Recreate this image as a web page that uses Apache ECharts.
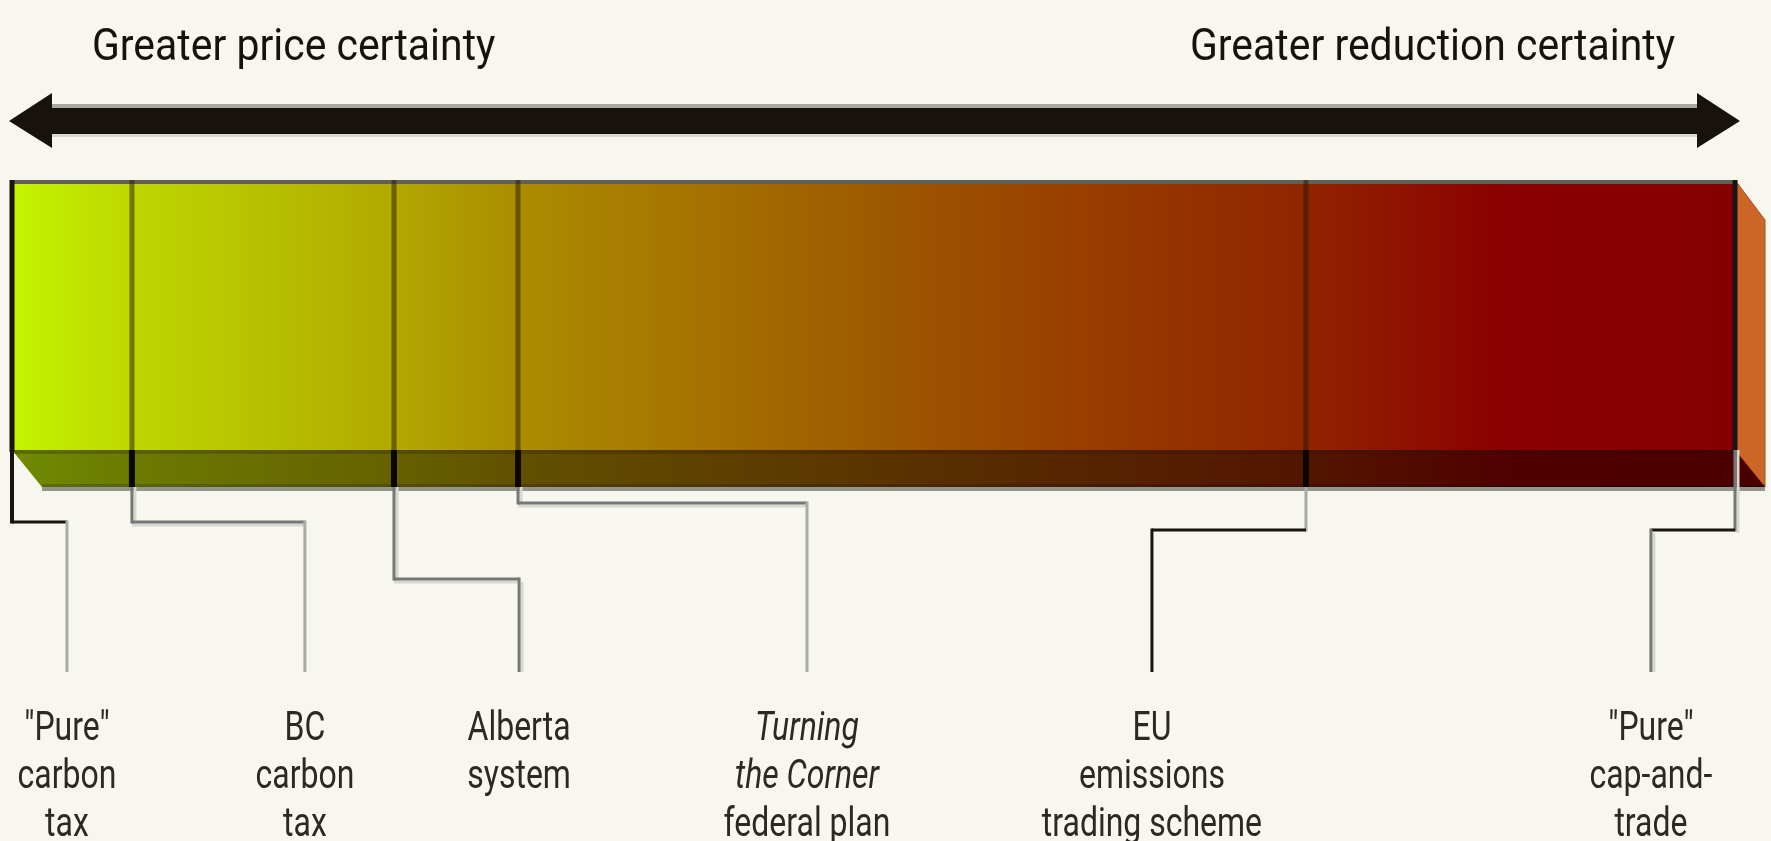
<!DOCTYPE html>
<html>
<head>
<meta charset="utf-8">
<script src="https://cdn.jsdelivr.net/npm/echarts@6/dist/echarts.min.js"></script>
<style>
  html, body { margin: 0; padding: 0; background: #f7f6ef; }
  #chart { width: 1771px; height: 841px; }
</style>
</head>
<body>
<div id="chart"></div>
<script>
// spectrum position: 0 = "pure" carbon tax, 100 = "pure" cap-and-trade
const headers = ['Greater price certainty', 'Greater reduction certainty'];
const policies = [
  '"Pure"\ncarbon\ntax',
  'BC\ncarbon\ntax',
  'Alberta\nsystem',
  '{i|Turning}\n{i|the Corner}\nfederal plan',
  'EU\nemissions\ntrading scheme',
  '"Pure"\ncap-and-\ntrade'
];
const dividerPos = [0, 6.96, 22.17, 29.37, 75.1, 100];
const labelPos = [3.19, 17.0, 29.43, 46.14, 66.16, 95.12];

// layout in px (y axis runs 0..841 top-down)
const Y = { arrow: 121, top: 180, front: 450, bottom: 487, drop: 672, label: 706 };
const elbowY = [522, 522, 579, 503, 530, 530];
const DEPTH = 30;

// styles
const faceStops = [
  [0, '#c4f400'], [0.07, '#bdd700'], [0.222, '#b2a900'], [0.294, '#ab8c00'],
  [0.40, '#a57200'], [0.515, '#9d5600'], [0.631, '#973c00'], [0.751, '#912400'],
  [0.864, '#8b0000'], [1, '#840000']
];
const BLACK = '#1a1410', DARK = '#777777', LIGHT = '#aaaaaa', SHADOW = '#d8d7d0';
// colours of: drop from bar, horizontal run, drop to label
const leaderColors = [
  [BLACK, BLACK, LIGHT],
  [DARK, DARK, LIGHT],
  [DARK, DARK, DARK],
  [DARK, DARK, LIGHT],
  [LIGHT, BLACK, BLACK],
  [DARK, BLACK, DARK]
];
const FONT = 'Roboto, "DejaVu Sans", sans-serif';

const chart = echarts.init(document.getElementById('chart'), null, { renderer: 'canvas' });

function gradient() {
  return new echarts.graphic.LinearGradient(0, 0, 1, 0,
    faceStops.map(s => ({ offset: s[0], color: s[1] })));
}

function renderBar(params, api) {
  const pl = api.coord([api.value(0), Y.top]);
  const pr = api.coord([api.value(1), Y.front]);
  const x0 = pl[0], x1 = pr[0], yt = pl[1], yf = pr[1];
  const yb = api.coord([0, Y.bottom])[1];
  const ya = api.coord([0, Y.arrow])[1];
  const kids = [];

  // double-headed arrow
  const hl = x0 + 40, hr = x1 - 38;
  kids.push({ type: 'rect', shape: { x: hl, y: ya - 17, width: hr - hl, height: 4 }, style: { fill: '#a9a7a1' } });
  kids.push({ type: 'rect', shape: { x: hl, y: ya + 13, width: hr - hl, height: 3 }, style: { fill: '#d8d6d0' } });
  kids.push({
    type: 'polygon',
    shape: { points: [[x0 - 3, ya], [hl, ya - 28], [hl, ya - 13], [hr, ya - 13], [hr, ya - 28], [x1 + 5, ya],
      [hr, ya + 27], [hr, ya + 13], [hl, ya + 13], [hl, ya + 27]] },
    style: { fill: '#17120e' }
  });

  // headers
  kids.push({
    type: 'text', x: x0 + 80, y: ya - 94, scaleX: 0.93,
    style: { text: headers[0], x: 0, y: 0, fill: '#151210', font: '44px ' + FONT, align: 'left', verticalAlign: 'top' }
  });
  kids.push({
    type: 'text', x: x1 - 60, y: ya - 94, scaleX: 0.93,
    style: { text: headers[1], x: 0, y: 0, fill: '#151210', font: '44px ' + FONT, align: 'right', verticalAlign: 'top' }
  });

  // right side face
  kids.push({
    type: 'polygon',
    shape: { points: [[x1, yt], [x1 + DEPTH, yt + 40], [x1 + DEPTH, yb], [x1, yf]] },
    style: { fill: '#cc6626', stroke: '#a8521c', lineWidth: 1 }
  });
  // bottom face
  const bottomPts = [[x0, yf], [x1, yf], [x1 + DEPTH, yb], [x0 + DEPTH, yb]];
  kids.push({ type: 'polygon', shape: { points: bottomPts }, style: { fill: gradient() } });
  kids.push({ type: 'polygon', shape: { points: bottomPts }, style: { fill: 'rgba(0,0,0,0.43)' } });
  kids.push({ type: 'rect', shape: { x: x0, y: yf, width: x1 - x0, height: 4 }, style: { fill: 'rgba(40,20,0,0.25)' } });
  kids.push({ type: 'rect', shape: { x: x0 + DEPTH, y: yb - 3, width: x1 - x0, height: 3 }, style: { fill: 'rgba(0,0,0,0.18)' } });
  kids.push({ type: 'rect', shape: { x: x0 + DEPTH, y: yb, width: x1 - x0, height: 4 }, style: { fill: '#959590' } });
  // front face
  kids.push({ type: 'rect', shape: { x: x0, y: yt, width: x1 - x0, height: yf - yt }, style: { fill: gradient() } });
  kids.push({ type: 'rect', shape: { x: x0, y: yt, width: x1 - x0, height: 4 }, style: { fill: '#655f50' } });

  return { type: 'group', children: kids };
}

function renderLeader(params, api) {
  const i = params.dataIndex;
  const dx = api.coord([api.value(0), 0])[0];
  const lx = api.coord([api.value(1), 0])[0];
  const yt = api.coord([0, Y.top])[1];
  const yf = api.coord([0, Y.front])[1];
  const yb = api.coord([0, Y.bottom])[1];
  const ye = api.coord([0, elbowY[i]])[1];
  const yd = api.coord([0, Y.drop])[1];
  const yl = api.coord([0, Y.label])[1];
  const c = leaderColors[i];
  const edge = i === 0 || i === policies.length - 1;
  const kids = [];
  const line = (x1, y1, x2, y2, color, w) => ({
    type: 'line', shape: { x1, y1, x2, y2 }, style: { stroke: color, lineWidth: w || 3, lineCap: 'butt' }
  });

  // divider on the bar
  if (edge) {
    kids.push(line(dx, yt, dx, yf + 2, BLACK, 5));
  } else {
    kids.push(line(dx, yt, dx, yf, 'rgba(35,25,0,0.5)', 5));
    kids.push(line(dx, yf, dx, yb, '#0b0700', 6));
  }
  const sx = i === 0 ? dx : dx;
  const y0 = edge ? yf : yb;
  // light shadows under grey runs
  if (c[0] === DARK) kids.push(line(sx + 3, y0, sx + 3, ye + 3, SHADOW));
  if (c[1] === DARK) kids.push(line(Math.min(sx, lx), ye + 3, Math.max(sx, lx), ye + 3, SHADOW));
  if (c[2] === DARK) kids.push(line(lx + 3, ye + 3, lx + 3, yd, SHADOW));
  // leader
  kids.push(line(sx, y0, sx, ye + 1.5, c[0], i === 0 ? 4 : 3));
  kids.push(line(sx, ye, lx, ye, c[1]));
  kids.push(line(lx, ye - 1.5, lx, yd, c[2]));

  // label
  kids.push({
    type: 'text', x: lx, y: yl, scaleX: 0.78,
    style: {
      text: policies[i], x: 0, y: 0, align: 'center', verticalAlign: 'top',
      font: '41px ' + FONT, fill: '#2b2826', lineHeight: 48,
      rich: {
        i: { fontStyle: 'italic', fontSize: 41, fontFamily: FONT, fill: '#2b2826', lineHeight: 48 }
      }
    }
  });
  return { type: 'group', children: kids };
}

chart.setOption({
  backgroundColor: '#f7f6ef',
  animation: false,
  grid: { left: 12, right: 36, top: 0, bottom: 0 },
  xAxis: { type: 'value', min: 0, max: 100, show: false },
  yAxis: { type: 'value', min: 0, max: 841, inverse: true, show: false },
  series: [
    {
      type: 'custom', name: 'spectrum', clip: false, silent: true,
      renderItem: renderBar,
      data: [[dividerPos[0], dividerPos[dividerPos.length - 1]]]
    },
    {
      type: 'custom', name: 'policies', clip: false, silent: true,
      renderItem: renderLeader,
      data: dividerPos.map((d, i) => [d, labelPos[i]])
    }
  ]
});
</script>
</body>
</html>
